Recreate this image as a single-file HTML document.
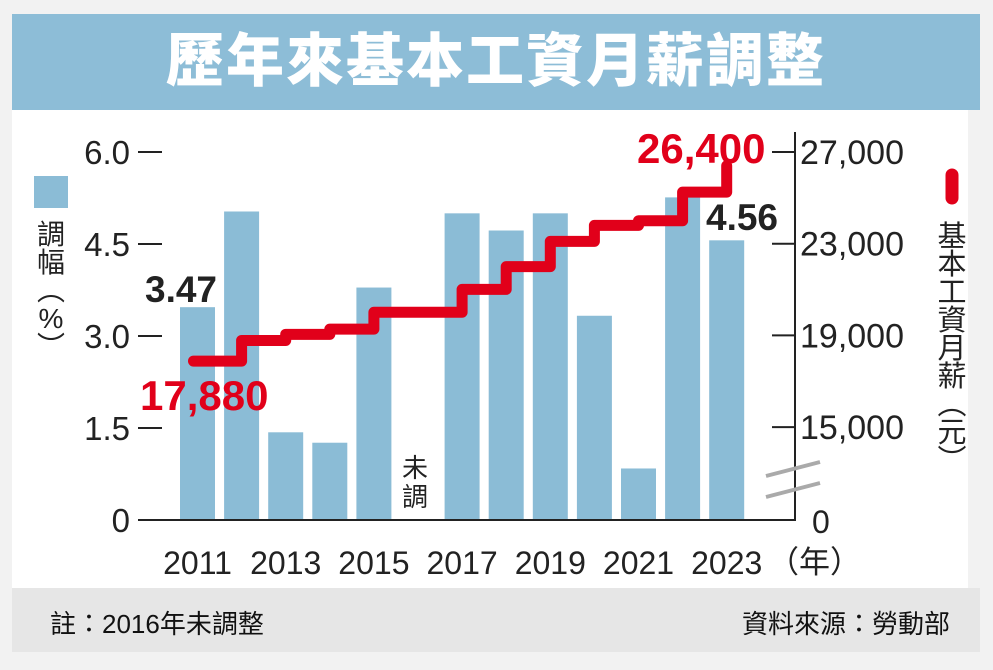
<!DOCTYPE html>
<html><head><meta charset="utf-8">
<style>
body{margin:0;width:993px;height:670px;overflow:hidden;background:#fff;font-family:"Liberation Sans","Noto Sans CJK TC",sans-serif;}
#wrap{position:absolute;left:0;top:0;width:993px;height:670px;background:#f2f2f2;}
#title{position:absolute;left:12px;top:14px;width:968px;height:96px;background:#8dbdd7;color:#fff;font-size:58px;font-weight:900;text-align:center;line-height:96px;letter-spacing:2px;}
#main{position:absolute;left:12px;top:110px;width:956px;height:478px;background:#fff;}
#foot{position:absolute;left:12px;top:588px;width:968px;height:64px;background:#e6e6e6;font-size:26px;color:#111;}
svg{position:absolute;left:0;top:0;}
</style></head><body>
<div id="wrap">
<div id="title">歷年來基本工資月薪調整</div>
<div id="main"></div>
<div id="foot">
<span style="position:absolute;left:38px;top:16px">註：2016年未調整</span>
<span style="position:absolute;right:30px;top:16px">資料來源：勞動部</span>
</div>
<svg id="chart" width="993" height="670"></svg>
</div>
<script>
const years=[2011,2012,2013,2014,2015,2016,2017,2018,2019,2020,2021,2022,2023];
const rates=[3.47,5.03,1.43,1.26,3.79,0,5.0,4.72,5.0,3.33,0.84,5.26,4.56];
const wages=[17880,18780,19047,19273,20008,20008,21009,22000,23100,23800,24000,25250,26400];
const leftTicks=[0,1.5,3.0,4.5,6.0];
const leftTickLabels=["0","1.5","3.0","4.5","6.0"];
const rightTicks=[15000,19000,23000,27000];
const rightTickLabels=["15,000","19,000","23,000","27,000"];
const xLabelYears=[2011,2013,2015,2017,2019,2021,2023];

const NS="http://www.w3.org/2000/svg";
const svg=document.getElementById('chart');
function el(t,a,txt){const e=document.createElementNS(NS,t);for(const k in a)e.setAttribute(k,a[k]);if(txt!=null)e.textContent=txt;svg.appendChild(e);return e;}
const y0=520,yTop=152;
const yL=v=>y0-(v/6)*(y0-yTop);
const yR=v=>yTop+(27000-v)/4000*91.7;
const barW=35;
const xi=i=>180+44.1*i;
const xc=i=>xi(i)+barW/2;

rates.forEach((v,i)=>{
 if(v<=0)return;
 const r=el('rect',{x:xi(i),y:yL(v),width:barW,height:y0-yL(v),fill:'#8bbcd6'});
 
 
});
let a=el('line',{x1:138,y1:y0,x2:796,y2:y0,stroke:'#222','stroke-width':2});

a=el('line',{x1:795,y1:132,x2:795,y2:y0,stroke:'#222','stroke-width':2});

leftTicks.forEach((v,i)=>{
 el('line',{x1:138,y1:yL(v),x2:162,y2:yL(v),stroke:'#222','stroke-width':2});
 const t=el('text',{x:130,y:yL(v)+12,'text-anchor':'end','font-size':33,fill:'#222'},leftTickLabels[i]);
 
});
rightTicks.forEach((v,i)=>{
 el('line',{x1:772,y1:yR(v),x2:795,y2:yR(v),stroke:'#222','stroke-width':2});
 const t=el('text',{x:800,y:yR(v)+12,'font-size':34,fill:'#222'},rightTickLabels[i]);
 
});
let t=el('text',{x:812,y:533,'font-size':32,fill:'#222'},'0');

el('line',{x1:766,y1:476,x2:820,y2:462,stroke:'#aaa','stroke-width':4});
el('line',{x1:766,y1:497,x2:820,y2:483,stroke:'#aaa','stroke-width':4});
xLabelYears.forEach(yr=>{
 const i=years.indexOf(yr);
 const t=el('text',{x:xc(i),y:574,'text-anchor':'middle','font-size':32,fill:'#222'},String(yr));
 
});
t=el('text',{x:768,y:573,'font-size':31,fill:'#222'},'（年）');

let d='M'+(xc(0)-4)+' '+yR(wages[0]);
for(let i=1;i<wages.length;i++){d+=' H'+xc(i)+' V'+yR(wages[i]);}
const p=el('path',{d:d,fill:'none',stroke:'#e1001a','stroke-width':11,'stroke-linejoin':'round','stroke-linecap':'round'});

t=el('text',{x:145,y:302,'font-size':37,'font-weight':'bold',fill:'#222'},rates[0].toFixed(2));

t=el('text',{x:706,y:230,'font-size':37,'font-weight':'bold',fill:'#222'},rates[12].toFixed(2));

t=el('text',{x:140,y:410,'font-size':42,'font-weight':'bold',fill:'#e1001a'},wages[0].toLocaleString('en-US'));

t=el('text',{x:637,y:163,'font-size':42,'font-weight':'bold',fill:'#e1001a'},wages[12].toLocaleString('en-US'));

t=el('text',{x:415,y:477,'text-anchor':'middle','font-size':26,fill:'#222'},'未');

el('text',{x:415,y:506,'text-anchor':'middle','font-size':26,fill:'#222'},'調');
let r=el('rect',{x:34,y:176,width:34,height:32,fill:'#8bbcd6'});

['調','幅','︵','%','︶'].forEach((c,i)=>{el('text',{x:51,y:244+i*28,'text-anchor':'middle','font-size':28,fill:'#222'},c);});
const lg=el('line',{x1:952,y1:175,x2:952,y2:198,stroke:'#e1001a','stroke-width':13,'stroke-linecap':'round'});

['基','本','工','資','月','薪','︵','元','︶'].forEach((c,i)=>{el('text',{x:952,y:246+i*28,'text-anchor':'middle','font-size':29,fill:'#222'},c);});
</script>
</body></html>
